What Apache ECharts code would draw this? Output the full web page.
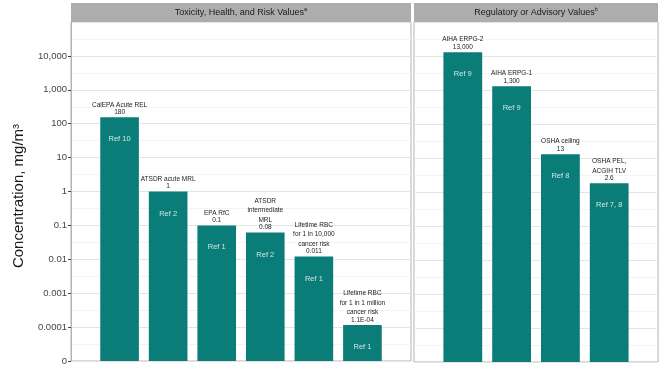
<!DOCTYPE html>
<html><head><meta charset="utf-8">
<script src="https://cdn.jsdelivr.net/npm/echarts@6/dist/echarts.min.js"></script>
<style>html,body{margin:0;padding:0;background:#fff}#c{width:661px;height:366px}</style>
</head><body><div id="c"></div>
<script>
const leftNames = ['CalEPA Acute REL','ATSDR acute MRL','EPA RfC','ATSDR\nintermediate\nMRL','Lifetime RBC\nfor 1 in 10,000\ncancer risk','Lifetime RBC\nfor 1 in 1 million\ncancer risk'];
const leftValues = [155, 1, 0.1, 0.062, 0.012, 0.000115];
const leftValueLabels = ['180','1','0.1','0.08','0.011','1.1E-04'];
const leftRefs = ['Ref 10','Ref 2','Ref 1','Ref 2','Ref 1','Ref 1'];
const rightNames = ['AIHA ERPG-2','AIHA ERPG-1','OSHA ceiling','OSHA PEL,\nACGIH TLV'];
const rightValues = [13000, 1300, 13, 1.8];
const rightValueLabels = ['13,000','1,300','13','2.6'];
const rightRefs = ['Ref 9','Ref 9','Ref 8','Ref 7, 8'];
const yTickLabels = ['0','0.0001','0.001','0.01','0.1','1','10','100','1,000','10,000'];
const panelTitles = ['Toxicity, Health, and Risk Values','Regulatory or Advisory Values'];
const panelNotes = ['a','b'];
const yTitle = 'Concentration, mg/m³';

const Y_MIN = 1e-5, Y_MAX = 1e5;
const FONT = '"Liberation Sans", Arial, Helvetica, sans-serif';
const BAR = '#0b7d78';
const P = [{left:71, width:340, n:leftValues.length}, {left:414, width:244, n:rightValues.length}];
const TOP = 22, H = 340;

function makeRender(names, vlabels, refs) {
  return function (params, api) {
    const i = params.dataIndex;
    const x = api.value(0), v = api.value(1);
    const top = api.coord([x, v]);
    const base = api.coord([x, Y_MIN]);
    const step = api.coord([x + 0.5, v])[0] - api.coord([x - 0.5, v])[0];
    const w = step * 0.795;
    const txt = (t, y, size, fill, va, lh) => ({
      type: 'text', x: top[0], y: y,
      style: { text: t, fill: fill, fontSize: size, fontFamily: FONT, lineHeight: lh,
        align: 'center', textAlign: 'center', verticalAlign: va, textVerticalAlign: va }
    });
    return { type: 'group', children: [
      { type: 'rect', shape: { x: top[0] - w / 2, y: top[1], width: w, height: base[1] - top[1] }, style: { fill: BAR } },
      txt(vlabels[i], top[1] - 5, 6.5, '#222', 'middle', 8),
      txt(names[i], top[1] - 7.75, 6.5, '#222', 'bottom', 9.5),
      txt(refs[i], top[1] + 22, 7.5, '#cfe7e5', 'middle', 9)
    ]};
  };
}

function logAxis(gi, labels) {
  return {
    type: 'log', gridIndex: gi, logBase: 10, min: Y_MIN, max: Y_MAX, interval: 1,
    axisLine: { show: labels, lineStyle: { color: '#b3b3b3', width: 1 } },
    axisTick: { show: labels, length: 3, lineStyle: { color: '#444' } },
    axisLabel: { show: labels, showMaxLabel: false, margin: 4, color: '#444', fontSize: 9.5, fontFamily: FONT,
      formatter: v => { const k = Math.round(Math.log10(v)) + 5; return yTickLabels[k] !== undefined ? yTickLabels[k] : ''; } },
    splitLine: { show: true, lineStyle: { color: '#e4e4e4', width: 1 } }
  };
}
function minorAxis(gi) {
  return {
    type: 'value', gridIndex: gi, min: 0, max: 20, interval: 1, position: 'right',
    axisLine: { show: false }, axisTick: { show: false }, axisLabel: { show: false },
    splitLine: { show: true, lineStyle: { color: ['rgba(0,0,0,0)', '#f3f3f3'], width: 1 } }
  };
}

const graphics = [];
P.forEach((p, k) => {
  graphics.push({ type: 'rect', left: p.left, top: 3, shape: { x: 0, y: 0, width: p.width, height: 19 },
    style: { fill: '#adadad' }, z: 10 });
  graphics.push({ type: 'text', x: p.left + p.width / 2, y: 12.5, z: 11,
    style: { text: '{m|' + panelTitles[k] + '}{s|' + panelNotes[k] + '}', align: 'center', verticalAlign: 'middle',
      textAlign: 'center', textVerticalAlign: 'middle',
      rich: { m: { fontSize: 9, fontFamily: FONT, fill: '#1a1a1a', color: '#1a1a1a', lineHeight: 12 },
              s: { fontSize: 5.5, fontFamily: FONT, fill: '#1a1a1a', color: '#1a1a1a', lineHeight: 12, verticalAlign: 'top' } } } });
});
graphics.push({ type: 'text', x: 19, y: 196, rotation: Math.PI / 2, z: 11,
  style: { text: yTitle, fontSize: 15, fontFamily: FONT, fill: '#1a1a1a', align: 'center', verticalAlign: 'middle',
    textAlign: 'center', textVerticalAlign: 'middle' } });

const chart = echarts.init(document.getElementById('c'), null, { renderer: 'canvas' });
chart.setOption({
  animation: false,
  backgroundColor: '#fff',
  grid: P.map(p => ({ left: p.left, top: TOP, width: p.width, height: H, show: true, borderColor: '#b3b3b3', borderWidth: 1, backgroundColor: 'transparent' })),
  xAxis: P.map((p, k) => ({ type: 'value', gridIndex: k, min: 0, max: p.n + 1, show: false })),
  yAxis: [logAxis(0, true), logAxis(1, false), minorAxis(0), minorAxis(1)],
  graphic: graphics,
  series: [
    { type: 'custom', xAxisIndex: 0, yAxisIndex: 0, clip: false, z: 5,
      data: leftValues.map((v, i) => [i + 1, v]),
      renderItem: makeRender(leftNames, leftValueLabels, leftRefs) },
    { type: 'custom', xAxisIndex: 1, yAxisIndex: 1, clip: false, z: 5,
      data: rightValues.map((v, i) => [i + 1, v]),
      renderItem: makeRender(rightNames, rightValueLabels, rightRefs) }
  ]
});
</script></body></html>
